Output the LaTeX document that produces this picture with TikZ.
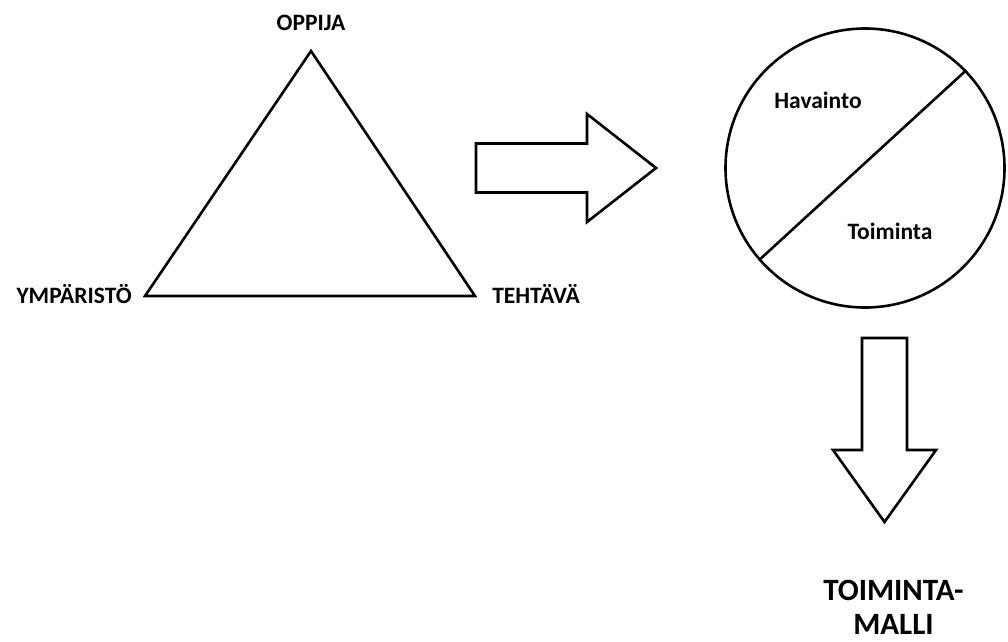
\documentclass[tikz,border=0pt]{standalone}
\usepackage{fontspec}
\setmainfont{Carlito}
\usetikzlibrary{positioning}

\begin{document}
\begin{tikzpicture}[
    x=1pt,
    y=-1pt,
    line width=2.6pt,
    node distance=12pt,
    font=\fontsize{23.5}{27}\selectfont\bfseries,
    text centered
  ]

  \tikzstyle{corner} = [inner sep=0pt, text height=14.5pt, text depth=0pt]
  \tikzstyle{part} = [inner sep=0pt]
  \tikzstyle{blockarrow} = [draw, fill=white]
  \tikzstyle{result} = [inner sep=0pt, align=center, font=\fontsize{31}{34}\selectfont\bfseries]

  \useasboundingbox (0,0) rectangle (1008,641);

  % triangle
  \coordinate (apex) at (311,51);
  \coordinate (bl) at (145,296);
  \coordinate (br) at (475,296);
  \draw (apex) -- (bl) -- (br) -- cycle;

  \node [corner, above=19pt of apex] (oppija) {OPPIJA};
  \node [corner, left=of bl] (ymparisto) {YMPÄRISTÖ};
  \node [corner, right=16pt of br] (tehtava) {TEHTÄVÄ};

  % arrow to the right
  \coordinate (rtail) at (476,168);
  \draw [blockarrow] (rtail) ++(0,-24.5) -- ++(111,0) -- ++(0,-29.5) -- ++(69,54) -- ++(-69,54) -- ++(0,-29.5) -- ++(-111,0) -- cycle;

  % circle
  \node [circle, draw, minimum size=279pt, inner sep=0pt] (circ) at (865,168) {};
  \draw (circ.221) -- (circ.44);
  \node [part] (havainto) at (818,100) {Havainto};
  \node [part] (toiminta) at (890,231) {Toiminta};

  % arrow down
  \coordinate (dtail) at (884.5,338);
  \coordinate (dtip) at (884.5,522);
  \draw [blockarrow] (dtail) ++(-22.5,0) -- ++(45,0) -- ++(0,112) -- ++(29,0) -- (dtip) -- ++(-51.5,-72) -- ++(29,0) -- cycle;

  \node [result, below=57pt of dtip, xshift=9pt] (malli) {TOIMINTA-\\MALLI};

\end{tikzpicture}
\end{document}
